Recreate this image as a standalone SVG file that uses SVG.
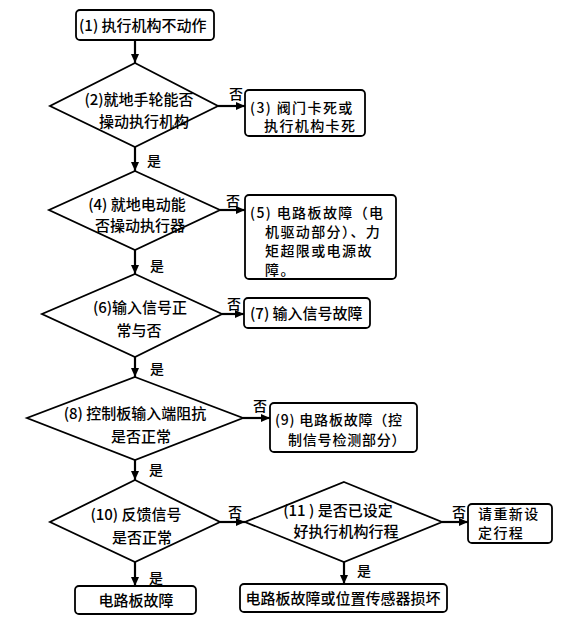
<svg xmlns="http://www.w3.org/2000/svg" width="583" height="627" viewBox="0 0 583 627">
<defs>
<marker id="ah" markerWidth="10" markerHeight="10" refX="9" refY="5" orient="auto" markerUnits="userSpaceOnUse">
<path d="M0,1 L9,5 L0,9 Z" fill="#000"/>
</marker>
<style>
.b{fill:#fff;stroke:#000;stroke-width:1.8}
.t{font-family:"Noto Sans CJK SC","Noto Sans CJK JP",sans-serif;font-size:15px;font-weight:500;fill:#000}
.s{font-family:"Noto Sans CJK SC","Noto Sans CJK JP",sans-serif;font-size:14px;font-weight:500;fill:#000;letter-spacing:1.4px}
.s9{letter-spacing:0.8px}
.l{font-family:"Noto Sans CJK SC","Noto Sans CJK JP",sans-serif;font-size:14px;font-weight:500;fill:#000}
.c{stroke:#000;stroke-width:2.2;fill:none;marker-end:url(#ah)}
.m{text-anchor:middle}
</style>
</defs>
<rect width="583" height="627" fill="#fff"/>
<g id="connectors">
<line class="c" x1="135" y1="40" x2="135" y2="63"/>
<line class="c" x1="218" y1="106" x2="245" y2="106"/>
<line class="c" x1="135" y1="147" x2="135" y2="171"/>
<line class="c" x1="220" y1="210" x2="245" y2="210"/>
<line class="c" x1="135" y1="250" x2="135" y2="274"/>
<line class="c" x1="222" y1="314" x2="244" y2="314"/>
<line class="c" x1="135" y1="357" x2="135" y2="377"/>
<line class="c" x1="243" y1="418" x2="270" y2="418"/>
<line class="c" x1="135" y1="460" x2="135" y2="480"/>
<line class="c" x1="220" y1="522" x2="245" y2="522"/>
<line class="c" x1="442" y1="522" x2="468" y2="522"/>
<line class="c" x1="135" y1="562" x2="135" y2="586"/>
<line class="c" x1="344" y1="562" x2="344" y2="584"/>
<text class="l" x="229" y="99">否</text>
<text class="l" x="147" y="166">是</text>
<text class="l" x="226" y="206">否</text>
<text class="l" x="150" y="271">是</text>
<text class="l" x="227" y="309">否</text>
<text class="l" x="150" y="374">是</text>
<text class="l" x="253" y="411">否</text>
<text class="l" x="149" y="475">是</text>
<text class="l" x="228" y="517">否</text>
<text class="l" x="149" y="583">是</text>
<text class="l" x="452" y="517">否</text>
<text class="l" x="357" y="576">是</text>
</g>
<g id="n1"><rect class="b" x="76" y="10" width="138" height="30" rx="4"/><text class="t" x="79" y="31">(1) 执行机构不动作</text></g>
<g id="n2"><polygon class="b" points="135,63 218,106 135,147 50,106"/><text class="t m" x="139" y="105">(2)就地手轮能否</text><text class="t m" x="144" y="127">操动执行机构</text></g>
<g id="n3"><rect class="b" x="245" y="90" width="120" height="46" rx="4"/><text class="s" x="250" y="113">(3) 阀门卡死或</text><text class="s" x="264" y="131">执行机构卡死</text></g>
<g id="n4"><polygon class="b" points="135,171 220,210 135,250 49,210"/><text class="t m" x="137" y="210">(4) 就地电动能</text><text class="t m" x="140" y="231">否操动执行器</text></g>
<g id="n5"><rect class="b" x="245" y="195" width="151" height="84" rx="4"/><text class="s" x="250" y="218">(5) 电路板故障（电</text><text class="s" x="265" y="237">机驱动部分）、力</text><text class="s" x="265" y="256">矩超限或电源故</text><text class="s" x="265" y="275">障。</text></g>
<g id="n6"><polygon class="b" points="135,274 222,314 135,357 42,314"/><text class="t m" x="140" y="313">(6)输入信号正</text><text class="t m" x="139" y="336">常与否</text></g>
<g id="n7"><rect class="b" x="244" y="298" width="126" height="30" rx="4"/><text class="t" x="250" y="319">(7) 输入信号故障</text></g>
<g id="n8"><polygon class="b" points="135,377 243,418 135,460 27,418"/><text class="t m" x="135" y="419">(8) 控制板输入端阻抗</text><text class="t m" x="141" y="442">是否正常</text></g>
<g id="n9"><rect class="b" x="270" y="403" width="147" height="49" rx="4"/><text class="s s9" x="275" y="425">(9) 电路板故障（控</text><text class="s s9" x="288" y="445">制信号检测部分）</text></g>
<g id="n10"><polygon class="b" points="135,480 220,522 135,562 50,522"/><text class="t m" x="136" y="520">(10) 反馈信号</text><text class="t m" x="142" y="543">是否正常</text></g>
<g id="n11"><polygon class="b" points="344,482 442,522 344,562 245,522"/><text class="t m" x="338" y="516">(11 ) 是否已设定</text><text class="t m" x="346" y="537">好执行机构行程</text></g>
<g id="n12"><rect class="b" x="468" y="504" width="84" height="39" rx="4"/><text class="s" x="478" y="519">请重新设</text><text class="s" x="478" y="538">定行程</text></g>
<g id="n13"><rect class="b" x="75" y="586" width="121" height="28" rx="4"/><text class="t m" x="136" y="606">电路板故障</text></g>
<g id="n14"><rect class="b" x="240" y="584" width="207" height="28" rx="4"/><text class="t m" x="343" y="604">电路板故障或位置传感器损坏</text></g>
</svg>
